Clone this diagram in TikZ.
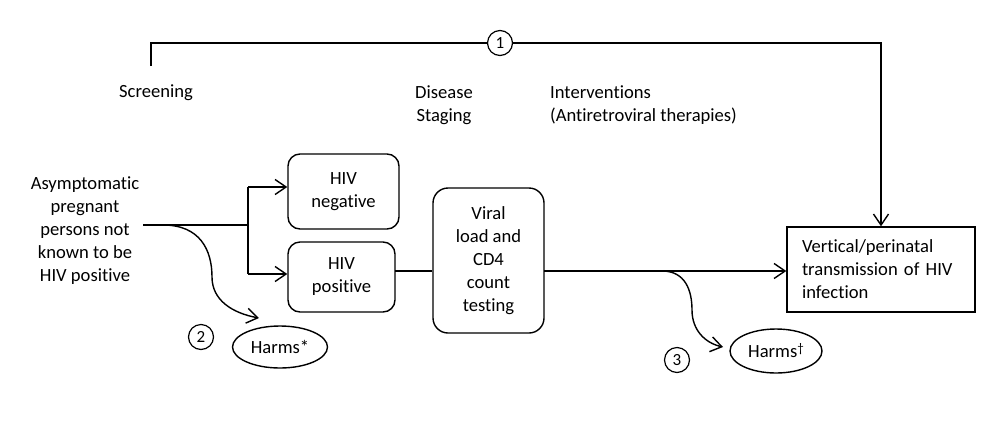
\documentclass[tikz,border=0pt]{standalone}
\usepackage{fontspec}
\setmainfont[Ligatures={NoCommon}]{Carlito}
\usetikzlibrary{arrows.meta,shapes.geometric}
\begin{document}
\begin{tikzpicture}[x=1pt,y=-1pt,
  every node/.style={font=\fontsize{18.6}{23}\selectfont, inner sep=0pt},
  line/.style={line width=1.4pt},
  arr/.style={line width=1.4pt, -{Straight Barb[length=11pt,width=15pt,line width=1.4pt]}},
  rbox/.style={draw, line width=1.4pt, rounded corners=12pt, align=center},
  sbox/.style={draw, line width=1.4pt, align=left},
  harm/.style={draw, ellipse, line width=1.4pt},
  num/.style={draw, circle, line width=1.2pt, minimum size=25pt, font=\fontsize{17}{18}\selectfont},
  lbl/.style={align=center}
]
\useasboundingbox (0,0) rectangle (1000,421);

% headers
\node[lbl] (screen) at (156,93) {Screening};
\node[lbl] (stage) at (444,105) {Disease\\Staging};
\node[align=left, anchor=west] (interv) at (550,105) {Interventions\\(Antiretroviral therapies)};

% source
\node[lbl] (src) at (85,231) {Asymptomatic\\pregnant\\persons not\\known to be\\HIV positive};

% boxes
\node[rbox, minimum width=111pt, minimum height=75pt] (neg) at (343.5,191.5) {HIV\\negative};
\node[rbox, minimum width=107pt, minimum height=70pt] (pos) at (341.5,277) {HIV\\positive};
\node[rbox, rounded corners=15pt, minimum width=111pt, minimum height=145pt] (viral) at (488.5,260.5) {Viral\\load and\\CD4\\count\\testing};
\node[sbox, minimum width=188pt, minimum height=85pt, text width=158pt] (out) at (881,269.5) {Vertical/perinatal\\transmission of HIV\\infection};

% harms
\node[harm, minimum width=95pt, minimum height=42pt] (h1) at (280,347) {Harms*};
\node[harm, minimum width=92pt, minimum height=44pt] (h2) at (776,351) {Harms{\fontsize{13}{13}\selectfont\raisebox{5pt}{†}}};

% numbers
\node[num] (n1) at (500,43) {1};
\node[num] (n2) at (201,337) {2};
\node[num] (n3) at (677,360) {3};

% coordinates
\coordinate (tl) at (151,66);
\coordinate (tc) at (151,43);
\coordinate (tr) at (881,43);
\coordinate (s0) at (143,225);
\coordinate (j) at (248,225);
\coordinate (jn) at (248,187);
\coordinate (jp) at (248,274);
\coordinate (pv) at (395,271);
\coordinate (vo) at (544,271);
\coordinate (c1) at (163,225);
\coordinate (c2) at (662,271);

% top KQ1 line
\draw[line] (tl) -- (tc) -- (n1.west);
\draw[arr] (n1.east) -- (tr) -- (out.north);

% screening branch
\draw[line] (s0) -- (j);
\draw[line] (jn) -- (jp);
\draw[arr] (jn) -- (jn -| neg.west);
\draw[arr] (jp) -- (jp -| pos.west);

% pos -> viral -> outcome
\draw[line] (pv) -- (pv -| viral.west);
\draw[arr] (vo) -- (vo -| out.west);

% harms curves
\draw[arr] (c1) .. controls (200,225) and (212,250) .. (212,277)
  .. controls (212,300) and (232,313) .. (259,318);
\draw[arr] (c2) .. controls (685,271) and (692,290) .. (692,310)
  .. controls (692,330) and (705,343) .. (723,347);
\end{tikzpicture}
\end{document}
